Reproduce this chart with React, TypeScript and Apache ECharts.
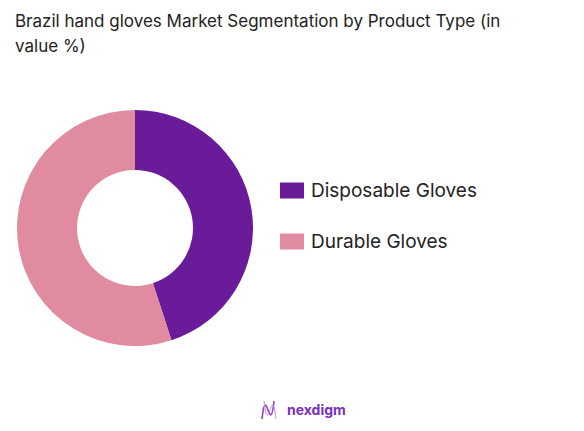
import React, { useEffect, useRef } from "react";
import * as echarts from "echarts";

const categories = ["Disposable Gloves", "Durable Gloves"];
const values = [45, 55];
const colors = ["#6A1B9A", "#E08BA0"];
const titleText = "Brazil hand gloves Market Segmentation by Product Type (in\nvalue %)";

export default function App() {
  const ref = useRef<HTMLDivElement>(null);
  useEffect(() => {
    const chart = echarts.init(ref.current!, undefined, { renderer: "svg" });
    chart.setOption({
      animation: false,
      backgroundColor: "#ffffff",
      title: {
        text: titleText,
        left: 7,
        top: 0,
        padding: 0,
        textStyle: {
          fontFamily: "Inter",
          fontSize: 17,
          fontWeight: "normal",
          color: "#222222",
          lineHeight: 25,
        },
      },
      legend: {
        orient: "vertical",
        left: 272,
        top: 173,
        padding: 0,
        itemWidth: 24,
        itemHeight: 16,
        itemGap: 32,
        icon: "rect",
        textStyle: { fontFamily: "Inter", fontSize: 19, color: "#222222", padding: [0, 0, 0, 2] },
        data: categories,
      },
      series: [
        {
          type: "pie",
          center: [127, 220],
          radius: [58, 118],
          startAngle: 90,
          clockwise: true,
          label: { show: false },
          labelLine: { show: false },
          emphasis: { disabled: true },
          data: categories.map((c, i) => ({ name: c, value: values[i], itemStyle: { color: colors[i] } })),
        },
      ],
      graphic: [
        {
          type: "bezierCurve",
          shape: { x1: 254, y1: 411, x2: 266, y2: 393, cpx1: 258, cpy1: 372, cpx2: 262, cpy2: 432 },
          style: { stroke: "#8E3FC8", lineWidth: 1.6, fill: null },
        },
        {
          type: "bezierCurve",
          shape: { x1: 256, y1: 393, x2: 268, y2: 411, cpx1: 260, cpy1: 432, cpx2: 264, cpy2: 372 },
          style: { stroke: "#C08AE0", lineWidth: 1, fill: null },
        },
        {
          type: "text",
          left: 279,
          top: 394,
          style: { text: "nexdigm", fontFamily: "Inter", fontSize: 14, fontWeight: "bold", fill: "#7A2FC0" },
        },
      ],
    });
    return () => chart.dispose();
  }, []);
  return <div ref={ref} style={{ width: 568, height: 415 }} />;
}
